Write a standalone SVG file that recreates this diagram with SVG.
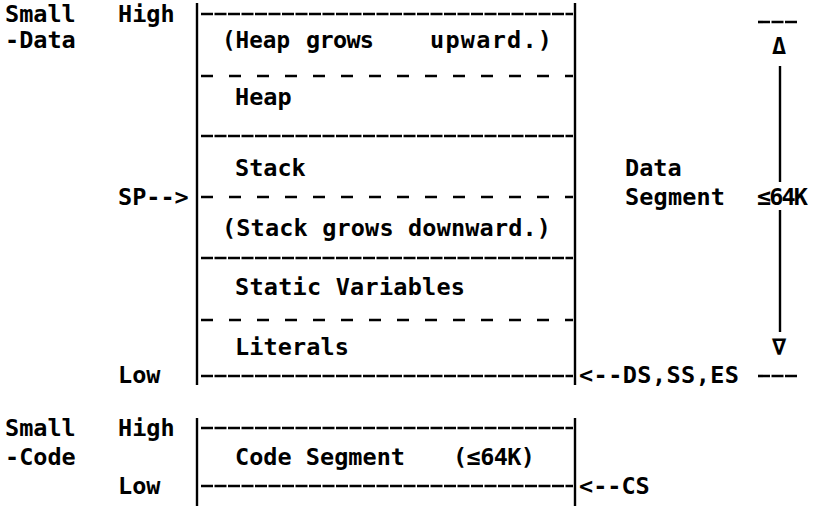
<svg xmlns="http://www.w3.org/2000/svg" width="815" height="509" viewBox="0 0 815 509">
<style>
text{font-family:"DejaVu Sans Mono","Liberation Mono",monospace;font-size:23.5px;font-weight:bold;fill:#000}
.solid{stroke:#000;stroke-width:2.6;stroke-dasharray:12 1.5;fill:none}
.dash{stroke:#000;stroke-width:2.6;stroke-dasharray:12 16;fill:none}
.v{stroke:#000;stroke-width:2.4;fill:none}
</style>
<rect width="815" height="509" fill="#fff"/>
<g id="labels-data">
<text x="5" y="22">Small</text>
<text x="118" y="22">High</text>
<text x="5" y="48">-Data</text>
<text x="118" y="205">SP--&gt;</text>
<text x="118" y="383">Low</text>
</g>
<g id="connectors">
<line class="v" x1="197" y1="3" x2="197" y2="385"/>
<line class="v" x1="575" y1="3" x2="575" y2="385"/>
<line class="v" x1="197" y1="418" x2="197" y2="506"/>
<line class="v" x1="575" y1="418" x2="575" y2="506"/>
<line class="solid" x1="201" y1="14" x2="573" y2="14"/>
<line class="dash" x1="201" y1="76" x2="573" y2="76"/>
<line class="solid" x1="201" y1="136" x2="573" y2="136"/>
<line class="dash" x1="201" y1="197" x2="573" y2="197"/>
<line class="solid" x1="201" y1="258" x2="573" y2="258"/>
<line class="dash" x1="201" y1="320" x2="573" y2="320"/>
<line class="solid" x1="201" y1="376" x2="573" y2="376"/>
<line class="solid" x1="201" y1="428" x2="573" y2="428"/>
<line class="solid" x1="201" y1="486" x2="573" y2="486"/>
<line class="solid" x1="758" y1="22" x2="798" y2="22"/>
<line class="solid" x1="758" y1="376" x2="798" y2="376"/>
<line class="v" x1="780" y1="66" x2="780" y2="182"/>
<line class="v" x1="780" y1="210" x2="780" y2="332"/>
</g>
<g id="heap-note"><text x="222" y="48" textLength="68" lengthAdjust="spacingAndGlyphs">(Heap</text><text x="306" y="48" textLength="68" lengthAdjust="spacing">grows</text><text x="430" y="48" textLength="122" lengthAdjust="spacing">upward.)</text></g>
<g id="heap"><text x="235" y="105">Heap</text></g>
<g id="stack"><text x="235" y="176">Stack</text></g>
<g id="stack-note"><text x="222" y="236" textLength="329" lengthAdjust="spacing">(Stack grows downward.)</text></g>
<g id="static"><text x="235" y="295" textLength="230" lengthAdjust="spacing">Static Variables</text></g>
<g id="literals"><text x="235" y="355" textLength="114" lengthAdjust="spacing">Literals</text></g>
<g id="data-segment-label">
<text x="625" y="176">Data</text>
<text x="625" y="205" textLength="100" lengthAdjust="spacing">Segment</text>
<text x="757" y="205" textLength="51" lengthAdjust="spacing">≤64K</text>
<text x="772" y="54">Δ</text>
<text x="772" y="355">∇</text>
<text x="579" y="383" textLength="160" lengthAdjust="spacing">&lt;--DS,SS,ES</text>
</g>
<g id="labels-code">
<text x="5" y="436">Small</text>
<text x="118" y="436">High</text>
<text x="5" y="465">-Code</text>
<text x="118" y="494">Low</text>
</g>
<g id="code-segment"><text x="235" y="465" textLength="170" lengthAdjust="spacing">Code Segment</text><text x="453" y="465" textLength="82" lengthAdjust="spacing">(≤64K)</text></g>
<g id="cs-label"><text x="579" y="494">&lt;--CS</text></g>
</svg>
